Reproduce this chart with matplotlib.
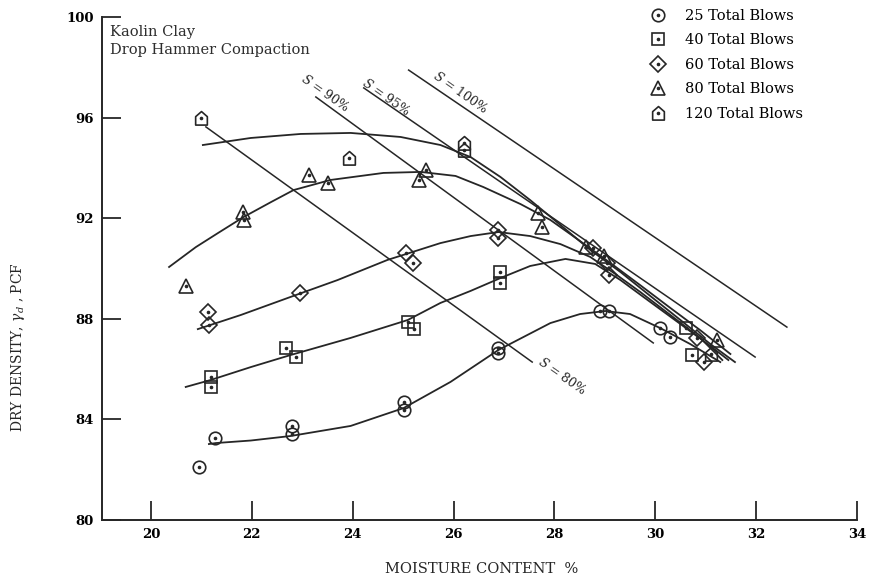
import numpy as np
import matplotlib
matplotlib.use("Agg")
import matplotlib.pyplot as plt
from matplotlib.path import Path

plt.rcParams["font.family"] = "DejaVu Serif"
plt.rcParams["mathtext.fontset"] = "dejavuserif"

INK = "#262626"

# measured compaction points (moisture %, dry density pcf) per blow count
w_25 = [20.95, 21.27, 22.79, 22.79, 25.01, 25.01, 26.89, 26.89, 28.91, 29.09, 30.10, 30.30]
d_25 = [82.11, 83.26, 83.74, 83.42, 84.69, 84.37, 86.84, 86.64, 88.31, 88.31, 87.63, 87.28]

w_40 = [21.19, 21.19, 22.67, 22.87, 25.09, 25.21, 26.93, 26.93, 30.61, 30.73]
d_40 = [85.69, 85.29, 86.84, 86.48, 87.87, 87.59, 89.86, 89.42, 87.63, 86.56]

w_60 = [21.13, 21.15, 22.95, 25.05, 25.19, 26.89, 26.89, 28.77, 29.05, 29.09, 30.83, 30.97]
d_60 = [88.27, 87.75, 89.03, 90.62, 90.22, 91.53, 91.21, 90.81, 90.22, 89.74, 87.24, 86.28]

w_80 = [20.69, 21.82, 21.84, 23.13, 23.52, 25.45, 25.31, 27.68, 27.76, 28.63, 28.99, 31.23]
d_80 = [89.30, 92.25, 91.93, 93.72, 93.40, 93.92, 93.52, 92.21, 91.65, 90.85, 90.50, 87.16]

w_120 = [21.00, 23.92, 26.20, 26.20, 31.11]
d_120 = [95.98, 94.39, 94.99, 94.71, 86.60]

# hand-fitted compaction curves
cw_25 = [21.15, 21.29, 21.98, 22.77, 23.96, 25.01, 25.94, 26.89, 27.92, 28.51, 29.01, 29.50, 30.10, 30.69, 31.29]
cd_25 = [83.02, 83.06, 83.16, 83.34, 83.74, 84.45, 85.49, 86.76, 87.83, 88.19, 88.31, 88.19, 87.63, 87.00, 86.28]

cw_40 = [20.69, 21.19, 21.98, 22.77, 23.96, 25.09, 25.74, 26.34, 26.93, 27.52, 28.22, 28.81, 29.31, 29.90, 30.50, 31.09, 31.45]
cd_40 = [85.29, 85.57, 86.08, 86.56, 87.24, 87.95, 88.63, 89.11, 89.62, 90.10, 90.38, 90.18, 89.54, 88.67, 87.79, 86.92, 86.36]

cw_60 = [20.93, 21.78, 22.77, 23.70, 24.69, 25.74, 26.34, 26.89, 27.52, 28.12, 28.71, 29.21, 29.70, 30.30, 30.89, 31.33]
cd_60 = [87.59, 88.15, 88.87, 89.54, 90.34, 91.01, 91.29, 91.45, 91.29, 90.97, 90.46, 89.78, 89.07, 88.15, 87.24, 86.36]

cw_80 = [20.36, 20.89, 21.33, 21.84, 22.38, 22.83, 23.56, 24.61, 25.35, 26.04, 26.59, 27.33, 27.92, 28.51, 29.11, 29.70, 30.30, 30.89, 31.49]
cd_80 = [90.06, 90.85, 91.41, 92.05, 92.64, 93.12, 93.52, 93.80, 93.84, 93.68, 93.24, 92.56, 91.93, 91.09, 90.22, 89.34, 88.43, 87.55, 86.60]

cw_120 = [21.03, 21.98, 22.97, 23.96, 24.95, 25.74, 26.34, 26.93, 27.52, 28.12, 28.71, 29.31, 29.90, 30.50, 31.09, 31.58]
cd_120 = [94.91, 95.19, 95.35, 95.39, 95.23, 94.91, 94.43, 93.64, 92.72, 91.73, 90.74, 89.86, 88.91, 87.95, 87.00, 86.28]

# degree-of-saturation lines (end points)
sat_labels = ["$S$ = 80%", "$S$ = 90%", "$S$ = 95%", "$S$ = 100%"]
sat_w = [(21.09, 27.56), (23.27, 29.96), (24.22, 31.98), (25.11, 32.61)]
sat_d = [(95.63, 86.28), (96.82, 87.04), (97.18, 86.48), (97.89, 87.67)]
sat_text_w = [28.16, 23.47, 24.67, 26.14]
sat_text_d = [85.71, 96.98, 96.82, 96.98]

blow_labels = ["25 Total Blows", "40 Total Blows", "60 Total Blows",
               "80 Total Blows", "120 Total Blows"]

house = Path([(-0.8, -0.9), (0.8, -0.9), (0.8, 0.25), (0.0, 0.95), (-0.8, 0.25), (-0.8, -0.9)],
             [Path.MOVETO, Path.LINETO, Path.LINETO, Path.LINETO, Path.LINETO, Path.CLOSEPOLY])
markers = ["o", "s", "D", "^", house]
msizes = [9, 9, 8, 10, 10]

fig = plt.figure(figsize=(8.69, 5.78), dpi=100)
ax = fig.add_axes([102 / 869, 1 - 520 / 578, 755 / 869, 503 / 578])

for cw, cd in [(cw_25, cd_25), (cw_40, cd_40), (cw_60, cd_60), (cw_80, cd_80), (cw_120, cd_120)]:
    ax.plot(cw, cd, color=INK, lw=1.3, zorder=2)

for sw, sd in zip(sat_w, sat_d):
    ax.plot(sw, sd, color=INK, lw=1.1, zorder=1)
for lab, tw, td in zip(sat_labels, sat_text_w, sat_text_d):
    ax.text(tw, td, lab, rotation=-35, rotation_mode="anchor", ha="center", va="center",
            fontsize=9, color=INK)

handles = []
for (w, d), m, ms in zip([(w_25, d_25), (w_40, d_40), (w_60, d_60), (w_80, d_80), (w_120, d_120)],
                         markers, msizes):
    mk, = ax.plot(w, d, ls="none", marker=m, ms=ms, mfc="none", mec=INK, mew=1.2, zorder=3)
    dot, = ax.plot(w, d, ls="none", marker="o", ms=1.6, color=INK, zorder=3)
    handles.append((mk, dot))

ax.legend(handles, blow_labels, loc="upper left", bbox_to_anchor=(643 / 869, 1 - 3 / 578),
          bbox_transform=fig.transFigure, frameon=False, fontsize=10.5, handlelength=1.2,
          handletextpad=1.3, labelspacing=0.72, borderaxespad=0)

ax.text(0.011, 0.985, "Kaolin Clay\nDrop Hammer Compaction", transform=ax.transAxes,
        ha="left", va="top", fontsize=10.5, color="#2e2e2e", linespacing=1.45)

ax.set_xlim(19.03, 34.0)
ax.set_ylim(80, 100)
ax.set_xticks(np.arange(20, 35, 2))
ax.set_yticks(np.arange(80, 101, 4))
ax.tick_params(direction="in", length=14, width=1.3, color=INK, labelsize=9.5, pad=6)
for lab in ax.get_xticklabels() + ax.get_yticklabels():
    lab.set_fontweight("bold")
ax.spines["top"].set_visible(False)
ax.spines["right"].set_visible(False)
for s in ("left", "bottom"):
    ax.spines[s].set_linewidth(1.4)
    ax.spines[s].set_color(INK)

fig.text(482 / 869, 1 - 569 / 578, "MOISTURE CONTENT  %", ha="center", va="center",
         fontsize=10.5, color=INK)
fig.text(18 / 869, 1 - 347 / 578, r"DRY DENSITY, $\gamma_d$ , PCF", ha="center", va="center",
         rotation=90, fontsize=10, color=INK)

fig.savefig("out.png", dpi=100)
